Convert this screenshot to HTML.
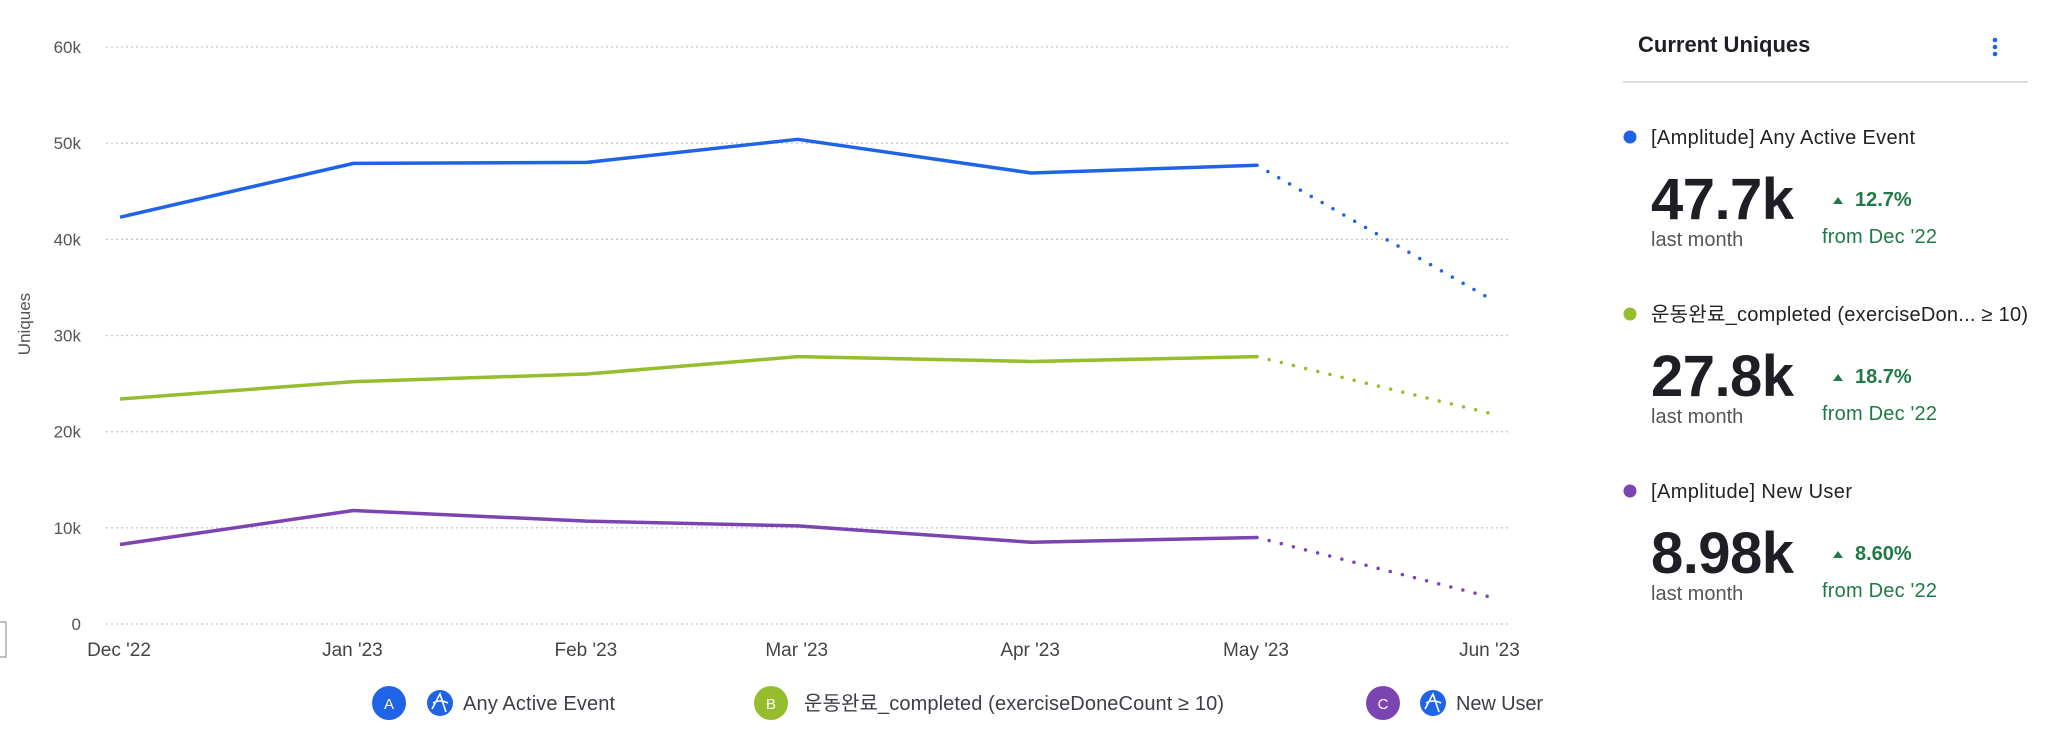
<!DOCTYPE html>
<html><head><meta charset="utf-8"><style>
html,body{margin:0;padding:0;background:#fff;width:2048px;height:742px;overflow:hidden}
svg{display:block;font-family:"Liberation Sans","Noto Sans CJK KR",sans-serif}
</style></head><body>
<svg id="chart" width="2048" height="742" viewBox="0 0 2048 742">
  <rect x="-2" y="622" width="8" height="35" fill="none" stroke="#aaa" stroke-width="1.5"/>
  <g id="grid"></g>
  <g id="yticks"></g>
  <g id="xticks"></g>
  <text x="0" y="0" transform="translate(30,324) rotate(-90)" text-anchor="middle" font-size="17" fill="#555">Uniques</text>
  <g id="series"></g>

  <g>
    <g>
      <circle cx="389" cy="703" r="17" fill="#1f63e6"/>
      <text x="389" y="709" text-anchor="middle" font-size="15" fill="#fff">A</text>
      <circle cx="440" cy="703" r="13" fill="#1f63e6"/>
      <path d="M432 709 L440 694 L446 712 M433 703 Q440 699 448 703" stroke="#fff" stroke-width="1.6" fill="none"/>
      <text x="463" y="710" font-size="20" fill="#3d3d45" textLength="152">Any Active Event</text>
    </g>
    <g>
      <circle cx="771" cy="703" r="17" fill="#95bd2e"/>
      <text x="771" y="709" text-anchor="middle" font-size="15" fill="#fff">B</text>
      <text x="804" y="710" font-size="20" fill="#3d3d45" textLength="420">운동완료_completed (exerciseDoneCount ≥ 10)</text>
    </g>
    <g>
      <circle cx="1383" cy="703" r="17" fill="#7c44b0"/>
      <text x="1383" y="709" text-anchor="middle" font-size="15" fill="#fff">C</text>
      <circle cx="1433" cy="703" r="13" fill="#1f63e6"/>
      <path d="M1425 709 L1433 694 L1439 712 M1426 703 Q1433 699 1441 703" stroke="#fff" stroke-width="1.6" fill="none"/>
      <text x="1456" y="710" font-size="20" fill="#3d3d45" textLength="87">New User</text>
    </g>
  </g>

  <g>
    <text x="1638" y="52" font-size="22" font-weight="bold" fill="#1e1e24">Current Uniques</text>
    <g fill="#1f63e6">
      <circle cx="1995" cy="40" r="2.3"/><circle cx="1995" cy="47" r="2.3"/><circle cx="1995" cy="54" r="2.3"/>
    </g>
    <line x1="1623" y1="82" x2="2028" y2="82" stroke="#ddd" stroke-width="2"/>
    <g id="cards"></g>
  </g>
</svg>
<script>
const months = ["Dec '22","Jan '23","Feb '23","Mar '23","Apr '23","May '23","Jun '23"];
const monthDays = [0,31,62,90,121,151,182];
const yTicks = [0,10000,20000,30000,40000,50000,60000];
const yTickLabels = ["0","10k","20k","30k","40k","50k","60k"];
const seriesA = [42300,47900,48000,50400,46900,47700,33800];
const seriesB = [23400,25200,26000,27800,27300,27800,21900];
const seriesC = [8270,11800,10700,10200,8500,9000,2800];
const colors = ["#1f63e6","#95bd2e","#7c44b0"];
const cardNames = ["[Amplitude] Any Active Event","운동완료_completed (exerciseDon...  ≥ 10)","[Amplitude] New User"];
const cardNameLens = [264,377,201];
const cardValues = ["47.7k","27.8k","8.98k"];
const cardPcts = ["12.7%","18.7%","8.60%"];

const NS="http://www.w3.org/2000/svg";
const X0=120, DAY=7.53, Y0=624, YTOP=47, YMAX=60000;
const xs=d=>X0+d*DAY;
const ys=v=>Y0-(v/YMAX)*(Y0-YTOP);
function mk(tag,attrs,parent){const e=document.createElementNS(NS,tag);for(const k in attrs)e.setAttribute(k,attrs[k]);parent.appendChild(e);return e;}

const grid=document.getElementById('grid'), yt=document.getElementById('yticks'), xt=document.getElementById('xticks');
yTicks.forEach((v,i)=>{
  const l=mk('line',{x1:106,x2:1508,y1:ys(v),y2:ys(v),stroke:'#c4c8d0','stroke-width':1.3,'stroke-dasharray':'2 3'},grid);
  
  
  const t=mk('text',{x:81,y:ys(v)+6,'text-anchor':'end','font-size':17,fill:'#555'},yt);
  t.textContent=yTickLabels[i];
  
  
});
months.forEach((m,i)=>{
  const t=mk('text',{x:xs(monthDays[i])-1,y:656,'text-anchor':'middle','font-size':19,fill:'#444'},xt);
  t.textContent=m;
  
  
});
const ser=document.getElementById('series');
[seriesA,seriesB,seriesC].forEach((s,si)=>{
  const solid=s.slice(0,6).map((v,i)=>xs(monthDays[i])+','+ys(v)).join(' ');
  const p=mk('polyline',{points:solid,fill:'none',stroke:colors[si],'stroke-width':3.5,'stroke-linejoin':'round'},ser);
  
  
  const d=mk('line',{x1:xs(monthDays[5]),y1:ys(s[5]),x2:xs(monthDays[6]),y2:ys(s[6]),stroke:colors[si],'stroke-width':3.5,'stroke-linecap':'round','stroke-dasharray':'0 12.5'},ser);
  
  
});
const cards=document.getElementById('cards');
cardNames.forEach((n,i)=>{
  const oy=i*177;
  const g=mk('g',{},cards);
  
  
  mk('circle',{cx:1630,cy:137+oy,r:6.5,fill:colors[i]},g);
  const t=mk('text',{x:1651,y:144+oy,'font-size':20,fill:'#222',textLength:cardNameLens[i]},g);t.textContent=n;
  const v=mk('text',{x:1651,y:219+oy,'font-size':58,'font-weight':'bold',fill:'#1e1e24',textLength:143},g);v.textContent=cardValues[i];
  
  
  const lm=mk('text',{x:1651,y:246+oy,'font-size':20,fill:'#555'},g);lm.textContent='last month';
  mk('path',{d:`M1833 ${204+oy} L1843 ${204+oy} L1838 ${197+oy} Z`,fill:'#1f7a45'},g);
  const pc=mk('text',{x:1855,y:206+oy,'font-size':20,'font-weight':'bold',fill:'#1f7a45'},g);pc.textContent=cardPcts[i];
  const fr=mk('text',{x:1822,y:243+oy,'font-size':20,fill:'#1f7a45',textLength:115},g);fr.textContent="from Dec '22";
});
</script>
</body></html>
